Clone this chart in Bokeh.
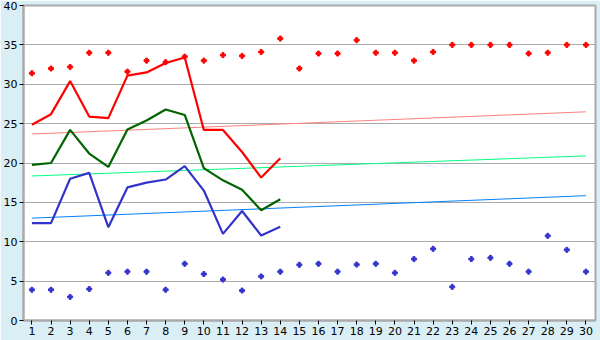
from bokeh.plotting import figure
from bokeh.models import Range1d, FixedTicker
from bokeh.embed import file_html
from bokeh.resources import INLINE

days = list(range(1, 31))
days_line = list(range(1, 15))

red_dots = [31.4, 32.0, 32.2, 34.0, 34.0, 31.6, 33.0, 32.8, 33.5, 33.0,
            33.7, 33.6, 34.1, 35.8, 32.0, 33.9, 33.9, 35.6, 34.0, 34.0,
            33.0, 34.1, 35.0, 35.0, 35.0, 35.0, 33.9, 34.0, 35.0, 35.0]
blue_dots = [3.9, 3.9, 3.0, 4.0, 6.05, 6.2, 6.2, 3.9, 7.2, 5.9,
             5.2, 3.8, 5.6, 6.2, 7.07, 7.2, 6.2, 7.1, 7.2, 6.05,
             7.8, 9.1, 4.27, 7.8, 7.96, 7.2, 6.2, 10.75, 8.97, 6.2]
red_line = [24.85, 26.2, 30.4, 25.9, 25.7, 31.1, 31.5, 32.7, 33.4, 24.2,
            24.2, 21.4, 18.15, 20.6]
green_line = [19.75, 20.0, 24.2, 21.2, 19.5, 24.25, 25.4, 26.8, 26.1, 19.35,
              17.8, 16.6, 14.0, 15.4]
blue_line = [12.36, 12.36, 18.0, 18.75, 11.85, 16.9, 17.5, 17.9, 19.6, 16.5,
             11.0, 13.9, 10.8, 11.9]
trend_x = [1, 30]
red_trend = [23.68, 26.5]
green_trend = [18.35, 20.9]
blue_trend = [13.0, 15.85]
y_ticks = [0, 5, 10, 15, 20, 25, 30, 35, 40]

BG = "#D9EEF5"
GRID = "#AAAAAA"

p = figure(width=600, height=340, output_backend="svg", toolbar_location=None,
           x_range=Range1d(0.56, 30.5), y_range=Range1d(0, 40))
p.min_border_left = 21
p.min_border_right = 5
p.min_border_top = 5
p.min_border_bottom = 20
p.border_fill_color = BG
p.background_fill_color = "white"
p.outline_line_color = GRID
p.outline_line_width = 2

p.xgrid.visible = False
p.ygrid.grid_line_color = GRID
p.ygrid.grid_line_width = 1

p.yaxis.ticker = FixedTicker(ticks=y_ticks)
p.xaxis.ticker = FixedTicker(ticks=days)
for ax in (p.xaxis[0], p.yaxis[0]):
    ax.axis_line_color = GRID
    ax.axis_line_width = 2
    ax.major_tick_line_color = "black"
    ax.major_tick_out = 4
    ax.major_tick_in = 0
    ax.minor_tick_line_color = None
    ax.major_label_standoff = 2
    ax.major_label_text_font = "DejaVu Sans"
    ax.major_label_text_font_size = "11px"
    ax.major_label_text_color = "black"

# trend lines
p.line(trend_x, red_trend, line_color="#FF8080", line_width=1)
p.line(trend_x, green_trend, line_color="#00FF80", line_width=1)
p.line(trend_x, blue_trend, line_color="#0080FF", line_width=1)

# main lines
p.line(days_line, red_line, line_color="#FF0000", line_width=2.2)
p.line(days_line, green_line, line_color="#006400", line_width=2.2)
p.line(days_line, blue_line, line_color="#3333CC", line_width=2.2)

# dots
p.scatter(days, red_dots, marker="plus", size=5, fill_color="#FF0000",
          line_color="#FF0000", line_width=1)
p.scatter(days, blue_dots, marker="plus", size=5, fill_color="#3333CC",
          line_color="#3333CC", line_width=1)

open("out.html", "w").write(file_html(p, INLINE))
